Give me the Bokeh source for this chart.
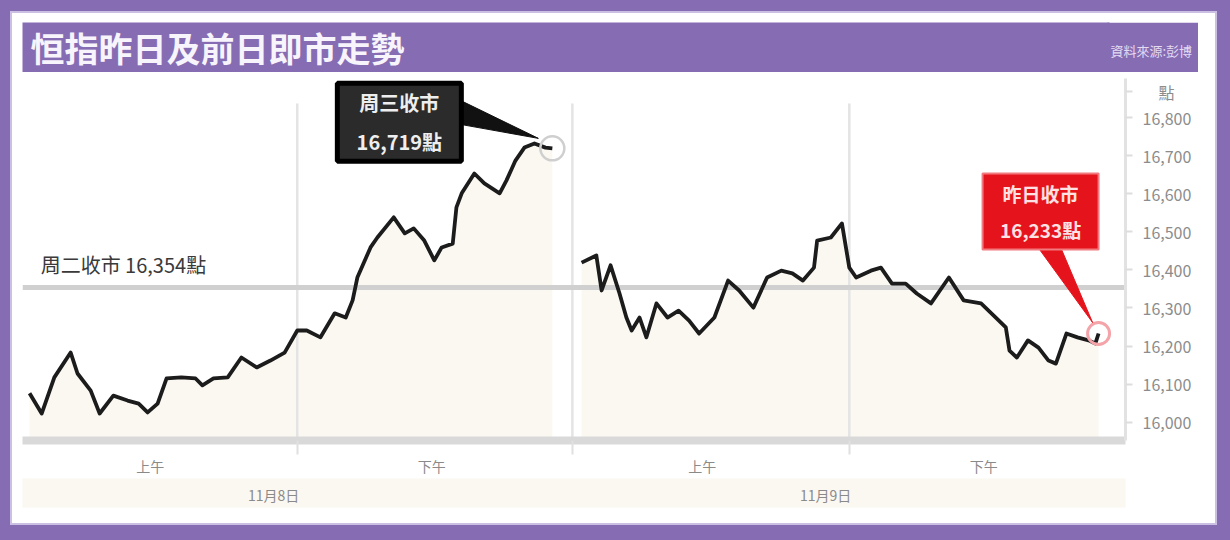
from bokeh.plotting import figure
from bokeh.layouts import column
from bokeh.models import LinearAxis, FixedTicker, NumeralTickFormatter, Range1d
from bokeh.core.properties import value
from bokeh.embed import file_html
from bokeh.resources import INLINE

FONT = "Noto Sans CJK TC"

# ---------------- data ----------------
title_text = "恒指昨日及前日即市走勢"
source_text = "資料來源:彭博"
unit_text = "點"
session_labels = ["上午", "下午"]
day_labels = ["11月8日", "11月9日"]
y_ticks = [16000, 16100, 16200, 16300, 16400, 16500, 16600, 16700, 16800]

prev_close = 16354
prev_close_name = "周二收市"
day1_close_name = "周三收市"
day2_close_name = "昨日收市"

# position within each day's panel (0 = left edge, 100 = right edge)
day1_x = [0.2, 2.5, 4.9, 8.0, 9.3, 11.8, 13.5, 16.1, 18.8, 20.9, 22.6, 24.5, 26.2,
          29.0, 31.7, 33.0, 35.1, 37.8, 40.4, 43.3, 45.9, 48.6, 51.0, 52.8, 55.4,
          58.1, 60.2, 61.5, 62.4, 64.9, 66.2, 69.3, 71.4, 73.1, 75.1, 77.0, 78.4,
          80.5, 81.2, 82.2, 84.6, 86.5, 89.4, 90.7, 92.4, 94.1, 96.0, 98.1, 99.4]
day1_y = [16076, 16023, 16118, 16183, 16128, 16083, 16023, 16070, 16057, 16049,
          16026, 16049, 16115, 16118, 16115, 16097, 16115, 16118, 16170, 16144,
          16162, 16183, 16241, 16241, 16223, 16286, 16275, 16320, 16380, 16459,
          16485, 16538, 16496, 16509, 16477, 16425, 16459, 16469, 16564, 16601,
          16653, 16627, 16601, 16635, 16687, 16721, 16732, 16721, 16719]

day2_x = [0.2, 3.0, 4.0, 5.7, 7.4, 8.7, 9.7, 11.2, 12.5, 14.4, 16.5, 18.6, 20.6,
          22.5, 25.4, 28.0, 30.1, 32.8, 35.4, 38.1, 40.2, 42.2, 44.3, 44.9, 47.5,
          49.6, 51.0, 52.3, 55.1, 57.0, 59.1, 61.7, 63.8, 66.5, 69.9, 72.7, 76.0,
          78.8, 80.7, 81.4, 82.8, 84.9, 86.9, 88.8, 90.2, 92.2, 94.3, 96.4, 97.7, 98.3]
day2_y = [16419, 16438, 16346, 16412, 16338, 16275, 16241, 16275, 16223, 16312,
          16275, 16293, 16267, 16233, 16275, 16372, 16346, 16301, 16380, 16398,
          16391, 16372, 16406, 16477, 16485, 16522, 16406, 16380, 16398, 16406,
          16364, 16364, 16338, 16312, 16380, 16320, 16312, 16275, 16249, 16188,
          16170, 16215, 16196, 16162, 16154, 16233, 16223, 16215, 16207, 16233]

session_pos = [23.1, 76.5]
day_label_pos = 46.5
midday_pos = 51.0
unit_pos = 16868

# ---------------- layout constants ----------------
PURPLE = "#866cb3"
FILL = "#faf8f1"

TW, TH = 1176, 50                      # title bar
W, H = 1193, 451                       # chart figure
BL, BR, BT, BB = 0, 90, 6, 83
FW, FH = W - BL - BR, H - BT - BB
DAY2_OFFSET = 104.75
SEPARATOR = 103.2
X0, X1 = -1.14, 208.16
Y0, Y1 = 15952.2, 16902.4
PXX = (X1 - X0) / FW
PXY = (Y1 - Y0) / FH

# ---------------- title bar ----------------
TFW = TW - BR
t = figure(width=TW, height=TH, x_range=Range1d(0, TFW), y_range=Range1d(0, TH),
           toolbar_location=None, output_backend="svg",
           x_axis_location=None, y_axis_location=None,
           min_border_left=0, min_border_right=BR, min_border_top=0, min_border_bottom=0,
           background_fill_color=PURPLE, border_fill_color=PURPLE, outline_line_color=None)
t.grid.visible = False
t.text(x=[8], y=[TH / 2], text=[title_text], text_font=value(FONT), text_font_size="34px",
       text_font_style="bold", text_color="#f7f4fc", text_baseline="middle", text_align="left")
src_tick = 22
ta = LinearAxis(ticker=FixedTicker(ticks=[src_tick]), major_label_overrides={src_tick: source_text},
                axis_line_color=PURPLE, axis_line_width=2, major_tick_out=0, major_tick_in=0,
                major_tick_line_color=None, minor_tick_line_color=None,
                major_label_standoff=2, major_label_text_font=FONT,
                major_label_text_font_size="13px", major_label_text_color="#e4dbf2")
t.add_layout(ta, "right")

# ---------------- chart ----------------
p = figure(width=W, height=H, x_range=Range1d(X0, X1), y_range=Range1d(Y0, Y1),
           toolbar_location=None, output_backend="svg",
           x_axis_location=None, y_axis_location=None,
           min_border_left=BL, min_border_right=BR, min_border_top=BT, min_border_bottom=BB,
           border_fill_color="white", background_fill_color="white", outline_line_color=None)
p.grid.visible = False

d2x = [v + DAY2_OFFSET for v in day2_x]

p.varea(x=day1_x, y1=Y0, y2=day1_y, fill_color=FILL)
p.varea(x=d2x, y1=Y0, y2=day2_y, fill_color=FILL)

grid_top = 16837
vx = [midday_pos, SEPARATOR, midday_pos + DAY2_OFFSET]
p.segment(x0=vx, y0=[Y0] * 3, x1=vx, y1=[grid_top] * 3, line_color="#e4e4e4", line_width=2.5)

p.segment(x0=[X0], y0=[prev_close], x1=[X1], y1=[prev_close], line_color="#d0d0d0", line_width=5)
p.text(x=[day1_x[0] + 2.1], y=[prev_close + 8 * PXY],
       text=[f"{prev_close_name} {prev_close:,}點"], text_font=value(FONT),
       text_font_size="20px", text_color="#3a3a3a", text_baseline="bottom", text_align="left")

p.line(day1_x, day1_y, line_color="#1c1c1c", line_width=3.8, line_join="round")
p.line(d2x, day2_y, line_color="#1c1c1c", line_width=3.8, line_join="round")

c1x, c1y = day1_x[-1], day1_y[-1]
c2x, c2y = d2x[-1], day2_y[-1]
p.scatter(x=[c1x], y=[c1y], marker="circle", size=24, fill_color=None,
          line_color="#cfcfcf", line_width=2.5)
p.scatter(x=[c2x], y=[c2y], marker="circle", size=22, fill_color=None,
          line_color="#f4a3a8", line_width=3)

# black callout
p.patch(x=[c1x - 92 * PXX, c1x - 92 * PXX, c1x - 14 * PXX],
        y=[c1y + 48 * PXY, c1y + 24 * PXY, c1y + 10 * PXY], color="#111111")
bx, by = c1x - 153 * PXX, c1y + 26 * PXY
p.rect(x=[bx], y=[by], width=124, height=78, width_units="screen", height_units="screen",
       fill_color="#2b2b2b", line_color="#000000", line_width=5)
p.text(x=[bx], y=[by], text=[f"{day1_close_name}\n{c1y:,}點"], text_font=value(FONT),
       text_font_size="20px", text_font_style="bold", text_color="#eeeeee",
       text_align="center", text_baseline="middle", text_line_height=1.35)

# red callout
p.patch(x=[c2x - 59 * PXX, c2x - 37 * PXX, c2x - 6 * PXX],
        y=[c2y + 84 * PXY, c2y + 84 * PXY, c2y + 11 * PXY], color="#e5141c")
rx, ry = c2x - 58 * PXX, c2y + 122 * PXY
p.rect(x=[rx], y=[ry], width=116, height=76, width_units="screen", height_units="screen",
       fill_color="#e5141c", line_color="#f27a7f", line_width=2)
p.text(x=[rx], y=[ry], text=[f"{day2_close_name}\n{c2y:,}點"], text_font=value(FONT),
       text_font_size="19px", text_font_style="bold", text_color="#fde1e3",
       text_align="center", text_baseline="middle", text_line_height=1.35)

# bottom axes: sessions and dates
sess_ticks = [session_pos[0], session_pos[1],
              session_pos[0] + DAY2_OFFSET, session_pos[1] + DAY2_OFFSET]
sess_over = {t_: session_labels[i % 2] for i, t_ in enumerate(sess_ticks)}
xa1 = LinearAxis(ticker=FixedTicker(ticks=sess_ticks, minor_ticks=vx),
                 major_label_overrides=sess_over,
                 axis_line_color="#d9d9d9", axis_line_width=8,
                 major_tick_out=0, major_tick_in=0, major_tick_line_color=None,
                 minor_tick_out=14, minor_tick_in=0, minor_tick_line_color="#e0e0e0",
                 minor_tick_line_width=2,
                 major_label_standoff=1, major_label_text_font=FONT,
                 major_label_text_font_size="14px", major_label_text_color="#8a8a8a")
p.add_layout(xa1, "below")

date_ticks = [day_label_pos, day_label_pos + DAY2_OFFSET]
date_over = {t_: day_labels[i] for i, t_ in enumerate(date_ticks)}
xa2 = LinearAxis(ticker=FixedTicker(ticks=date_ticks), major_label_overrides=date_over,
                 axis_line_color=None, major_tick_out=0, major_tick_in=0,
                 major_tick_line_color=None, minor_tick_line_color=None,
                 major_label_standoff=6, major_label_text_font=FONT,
                 major_label_text_font_size="14px", major_label_text_color="#8a8a8a",
                 background_fill_color=FILL)
p.add_layout(xa2, "below")

# right value axis (top extra tick carries the unit)
ya = LinearAxis(ticker=FixedTicker(ticks=y_ticks + [unit_pos]),
                formatter=NumeralTickFormatter(format="0,0"),
                major_label_overrides={unit_pos: "\u3000" + unit_text},
                axis_line_color="#e2e2e2", axis_line_width=3,
                major_tick_out=7, major_tick_in=0, major_tick_line_color="#dddddd",
                major_tick_line_width=2, minor_tick_line_color=None,
                major_label_standoff=10, major_label_text_font=FONT,
                major_label_text_font_size="16px", major_label_text_color="#8c8c8c")
p.add_layout(ya, "right")

inner = column(t, p, spacing=0,
               styles={"background-color": "white", "padding": "9px 0px 0px 10px",
                       "box-shadow": "0 0 0 2px #cbbfe3"})
outer = column(inner, spacing=0,
               styles={"background-color": PURPLE, "padding": "13px 15px 17px 12px"})

open("out.html", "w").write(file_html(outer, INLINE))
